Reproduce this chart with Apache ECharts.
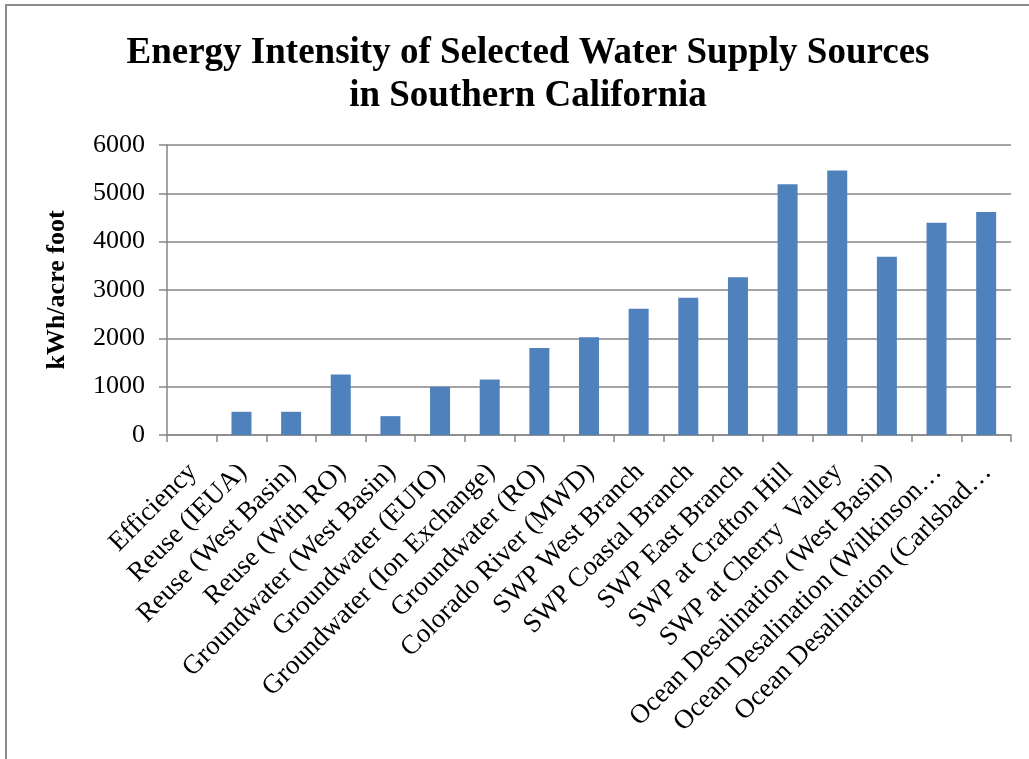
<!DOCTYPE html>
<html>
<head>
<meta charset="utf-8">
<script src="https://cdn.jsdelivr.net/npm/echarts@6/dist/echarts.min.js"></script>
<style>
html,body{margin:0;padding:0;background:#fff;}
#chart{width:1029px;height:759px;}
</style>
</head>
<body>
<div id="chart"></div>
<script>
const titleLines = ['Energy Intensity of Selected Water Supply Sources', 'in Southern California'];
const yAxisName = 'kWh/acre foot';
const categories = [
  'Efficiency',
  'Reuse (IEUA)',
  'Reuse (West Basin)',
  'Reuse (With RO)',
  'Groundwater (West Basin)',
  'Groundwater (EUIO)',
  'Groundwater (Ion Exchange)',
  'Groundwater (RO)',
  'Colorado River (MWD)',
  'SWP West Branch',
  'SWP Coastal Branch',
  'SWP East Branch',
  'SWP at Crafton Hill',
  'SWP at Cherry  Valley',
  'Ocean Desalination (West Basin)',
  'Ocean Desalination (Wilkinson…',
  'Ocean Desalination (Carlsbad…'
];
const values = [0, 480, 480, 1250, 390, 1000, 1150, 1800, 2020, 2610, 2840, 3265, 5190, 5470, 3690, 4390, 4615];
const yTicks = [0, 1000, 2000, 3000, 4000, 5000, 6000];

const gray = '#868686';
const serif = '"Liberation Serif", "Times New Roman", serif';

const chart = echarts.init(document.getElementById('chart'), null, {renderer: 'canvas'});
chart.setOption({
  animation: false,
  backgroundColor: '#ffffff',
  graphic: [{
    type: 'rect',
    shape: {x: 6, y: 5, width: 1100, height: 800},
    style: {fill: 'none', stroke: '#8c8c8c', lineWidth: 2},
    silent: true
  }],
  title: {
    text: titleLines.join('\n'),
    left: 523,
    textAlign: 'center',
    top: 27,
    textStyle: {
      fontFamily: serif,
      fontWeight: 'bold',
      fontSize: 37,
      lineHeight: 43,
      color: '#000'
    }
  },
  grid: {left: 167, right: 18, top: 145, bottom: 324, containLabel: false},
  xAxis: {
    type: 'category',
    data: categories,
    boundaryGap: true,
    axisLine: {show: true, lineStyle: {color: gray, width: 1.5}},
    axisTick: {show: true, interval: 0, length: 7, inside: false, alignWithLabel: false, lineStyle: {color: gray, width: 1.5}},
    axisLabel: {
      interval: 0,
      rotate: 45,
      margin: 15,
      verticalAlign: 'top',
      padding: [0, 12, 0, 0],
      fontFamily: serif,
      fontSize: 27,
      color: '#000'
    }
  },
  yAxis: {
    type: 'value',
    min: yTicks[0],
    max: yTicks[yTicks.length - 1],
    interval: yTicks[1] - yTicks[0],
    name: yAxisName,
    nameLocation: 'middle',
    nameGap: 97,
    nameTextStyle: {fontFamily: serif, fontWeight: 'bold', fontSize: 26, color: '#000'},
    axisLine: {show: true, lineStyle: {color: gray, width: 1.5}},
    axisTick: {show: true, length: 8, lineStyle: {color: gray, width: 1.5}},
    splitLine: {show: true, lineStyle: {color: gray, width: 1.5}},
    axisLabel: {
      margin: 22,
      fontFamily: serif,
      fontSize: 26,
      color: '#000',
      formatter: function (v) { return String(v); }
    }
  },
  series: [{
    type: 'bar',
    data: values,
    barWidth: 20,
    itemStyle: {color: '#4F81BD'}
  }]
});
</script>
</body>
</html>
